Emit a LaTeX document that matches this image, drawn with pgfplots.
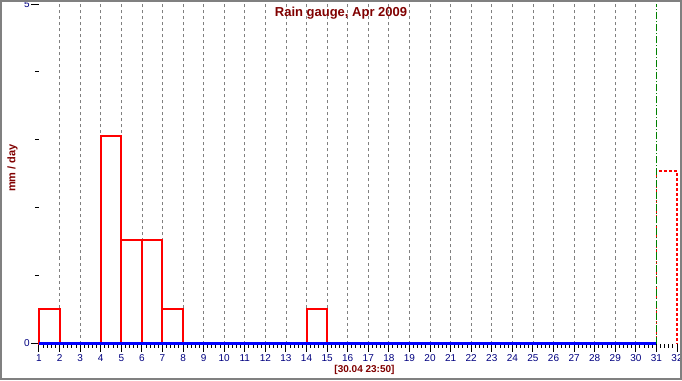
\documentclass[border=0pt]{standalone}
\usepackage{fontspec}
\setmainfont{Liberation Sans}
\usepackage{pgfplots}
\pgfplotsset{compat=1.18}
\definecolor{dred}{HTML}{800000}
\definecolor{navy}{HTML}{000080}
\definecolor{ggreen}{HTML}{008000}
\definecolor{barred}{RGB}{255,0,0}
\begin{document}
\begin{tikzpicture}
\begin{axis}[
 at={(0pt,0pt)}, anchor=south west,
 scale only axis, width=638pt, height=339.5pt,
 xmin=1, xmax=32, ymin=0, ymax=5,
 axis x line*=bottom, axis y line*=left,
 axis line style={draw=none},
 clip=false,
 xtick={1,...,32}, minor x tick num=4,
 ytick={0,5}, minor y tick num=4,
 tick align=outside,
 major tick length=8pt, minor tick length=4pt,
 every tick/.append style={black, line width=1pt},
 /pgf/number format/assume math mode=true,
 ticklabel style={font=\fontsize{10}{11}\selectfont, text=navy},
 xticklabel style={inner sep=1pt, yshift=-2pt},
 yticklabel style={inner sep=1pt},
 extra x ticks={2,...,30},
 extra x tick labels={},
 extra x tick style={major tick length=0pt, grid=major, major grid style={gray, line width=0.8pt, dash pattern=on 3pt off 3pt}},
]
\addplot[ybar interval, draw=barred, fill=none, line width=2pt] coordinates {(1,0.51)(2,0)};
\addplot[ybar interval, draw=barred, fill=none, line width=2pt] coordinates {(4,3.06)(5,1.53)(6,1.53)(7,0.51)(8,0)};
\addplot[ybar interval, draw=barred, fill=none, line width=2pt] coordinates {(14,0.51)(15,0)};
\addplot[draw=blue, line width=3.5pt] coordinates {(1,0)(31,0)};
\addplot[draw=barred, line width=1.2pt, dash pattern=on 3pt off 2pt] coordinates {(31,0)(31,2.54)(32,2.54)(32,0)};
\addplot[draw=ggreen, line width=1.4pt, dash pattern=on 7pt off 2pt on 1pt off 2pt] coordinates {(31,0)(31,5)};
\end{axis}
\node[font=\bfseries\fontsize{13}{14}\selectfont, text=dred, anchor=base] at (302pt,326.5pt) {Rain gauge, Apr 2009};
\node[font=\bfseries\fontsize{11}{12}\selectfont, text=dred, rotate=90, anchor=center, inner sep=0pt] at (-26.5pt,175.5pt) {mm / day};
\node[font=\bfseries\fontsize{10}{11}\selectfont, text=dred, anchor=base] at (325.5pt,-28.5pt) {[30.04 23:50]};
\draw[gray, line width=2pt] (-38pt,-35.5pt) rectangle (642pt,342.5pt);
\pgfresetboundingbox
\useasboundingbox (-39pt,-36.5pt) rectangle (643pt,343.5pt);
\end{tikzpicture}
\end{document}
